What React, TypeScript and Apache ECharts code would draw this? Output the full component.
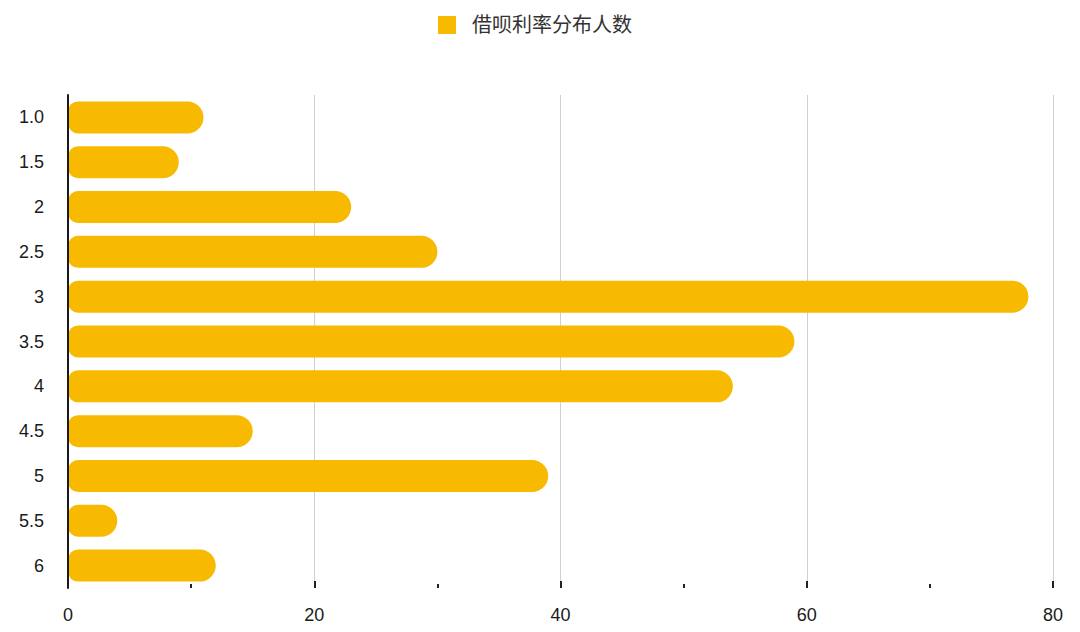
import React, { useRef, useEffect } from "react";
import * as echarts from "echarts";

const rates = ["1.0", "1.5", "2", "2.5", "3", "3.5", "4", "4.5", "5", "5.5", "6"];
const counts = [11, 9, 23, 30, 78, 59, 54, 15, 39, 4, 12];
const seriesName = "借呗利率分布人数";

const font = "Arial, 'Noto Sans CJK SC', sans-serif";

const App = function () {
  const chart = useRef<HTMLDivElement>(null);
  useEffect(() => {
    if (!chart.current) return;
    const myChart = echarts.init(chart.current, undefined, { renderer: "svg" });
    myChart.setOption({
      animation: false,
      legend: {
        top: 10,
        left: 433,
        icon: "rect",
        itemWidth: 18,
        itemHeight: 18,
        textStyle: {
          fontSize: 20,
          color: "#333",
          fontFamily: font,
          padding: [0, 0, 0, 11],
        },
      },
      grid: {
        left: 68,
        right: 27,
        top: 95,
        bottom: 44,
      },
      xAxis: {
        type: "value",
        min: 0,
        max: 80,
        interval: 20,
        axisLine: { show: false },
        axisTick: {
          show: true,
          inside: true,
          length: 7,
          lineStyle: { color: "#222", width: 2 },
        },
        minorTick: {
          show: true,
          splitNumber: 2,
          length: 4,
          lineStyle: { color: "#222", width: 2 },
        },
        splitLine: { lineStyle: { color: "#d0d0d0", width: 1 } },
        axisLabel: {
          fontSize: 18,
          color: "#1a1a1a",
          margin: 18,
          fontFamily: font,
        },
      },
      yAxis: {
        type: "category",
        data: rates,
        inverse: true,
        z: 5,
        axisLine: { lineStyle: { color: "#1a1a1a", width: 2 } },
        axisTick: { show: false },
        axisLabel: {
          fontSize: 18,
          color: "#1a1a1a",
          margin: 24,
          fontFamily: font,
        },
      },
      series: [
        {
          name: seriesName,
          type: "bar",
          data: counts,
          barWidth: 32,
          itemStyle: {
            color: "#F8BA00",
            borderRadius: [10, 16, 16, 10],
          },
        },
      ],
    });
    return () => {
      myChart.dispose();
    };
  }, []);
  return <div ref={chart} style={{ width: 1080, height: 632, margin: -8 }}></div>;
};

export default App;
